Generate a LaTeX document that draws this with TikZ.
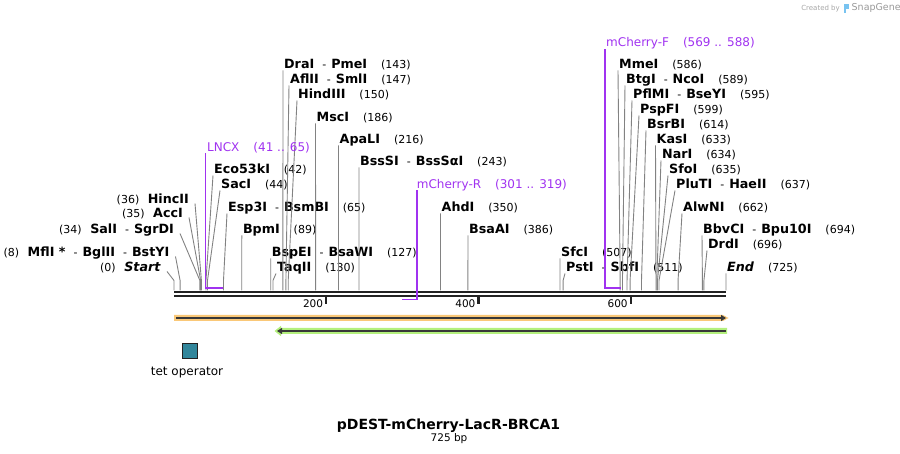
\documentclass[tikz,border=0pt]{standalone}
\usepackage{fontspec}
\setmainfont{DejaVu Sans}
\usetikzlibrary{arrows.meta}
\definecolor{primer}{RGB}{160,50,240}
\definecolor{leadgray}{RGB}{130,130,130}
\definecolor{bardark}{RGB}{34,34,34}
\definecolor{fwdhalo}{RGB}{250,200,120}
\definecolor{revhalo}{RGB}{180,240,125}
\definecolor{tetfill}{RGB}{49,134,155}
\definecolor{snapblue}{RGB}{120,195,240}
\newcommand{\sitesep}{\hspace{8pt}{\mdseries\fontsize{11}{13}\selectfont-}\hspace{5pt}}
\newcommand{\sitepos}[1]{\hspace{14pt}{\mdseries\fontsize{11}{13}\selectfont(#1)}}
\newcommand{\leftpos}[1]{{\mdseries\fontsize{11}{13}\selectfont(#1)}\hspace{8.5pt}}
\begin{document}
\begin{tikzpicture}[x=1pt,y=-1pt]
\tikzstyle{site} = [font=\fontsize{12.7}{15}\selectfont\bfseries,anchor=base west,inner sep=0];
\tikzstyle{lsite} = [site,anchor=base east];
\tikzstyle{feat} = [font=\fontsize{12}{14}\selectfont,text=primer,anchor=base west,inner sep=0];
\tikzstyle{leader} = [draw=leadgray,line width=0.9];
\tikzstyle{bracket} = [draw=primer,line width=1.8];
\tikzstyle{bar} = [draw=bardark,line width=2.4];
\tikzstyle{plain} = [inner sep=0];
\useasboundingbox (0,0) rectangle (900,454);

% cut sites on the sequence
\foreach \p in {0,8,34,35,36,42,44,65,89,127,130,143,147,150,186,216,243,350,386,507,511,586,589,595,599,614,633,634,635,637,662,694,696,725}
  \coordinate (s\p) at ({174+\p*0.7614},290.5);

% enzymes, right of their lines
\node [site] (dra) at (284,68.5) {DraI\sitesep PmeI\sitepos{143}};
\node [site] (afl) at (290,83.5) {AflII\sitesep SmlI\sitepos{147}};
\node [site] (hind) at (298,98.5) {HindIII\sitepos{150}};
\node [site] (msc) at (316.5,121.5) {MscI\sitepos{186}};
\node [site] (apa) at (339.5,143.5) {ApaLI\sitepos{216}};
\node [site] (bss) at (360,165.5) {BssSI\sitesep BssSαI\sitepos{243}};
\node [site] (eco) at (214,173.5) {Eco53kI\sitepos{42}};
\node [site] (sac) at (221,188.5) {SacI\sitepos{44}};
\node [site] (esp) at (228,211.5) {Esp3I\sitesep BsmBI\sitepos{65}};
\node [site] (bpm) at (242.8,233.5) {BpmI\sitepos{89}};
\node [site] (bsp) at (271.7,256.5) {BspEI\sitesep BsaWI\sitepos{127}};
\node [site] (taq) at (277,271.5) {TaqII\sitepos{130}};
\node [site] (ahd) at (441.5,211.5) {AhdI\sitepos{350}};
\node [site] (bsaa) at (469,233.5) {BsaAI\sitepos{386}};
\node [site] (sfc) at (561,256.5) {SfcI\sitepos{507}};
\node [site] (pst) at (566,271.5) {PstI\sitesep SbfI\sitepos{511}};
\node [site] (mme) at (619,68.5) {MmeI\sitepos{586}};
\node [site] (btg) at (626,83.5) {BtgI\sitesep NcoI\sitepos{589}};
\node [site] (pfl) at (633,98.5) {PflMI\sitesep BseYI\sitepos{595}};
\node [site] (psp) at (640,113.5) {PspFI\sitepos{599}};
\node [site] (bsr) at (647,128.5) {BsrBI\sitepos{614}};
\node [site] (kas) at (656.5,143.5) {KasI\sitepos{633}};
\node [site] (nar) at (662,158.5) {NarI\sitepos{634}};
\node [site] (sfo) at (669,173.5) {SfoI\sitepos{635}};
\node [site] (plu) at (676,188.5) {PluTI\sitesep HaeII\sitepos{637}};
\node [site] (alw) at (683,211.5) {AlwNI\sitepos{662}};
\node [site] (bbv) at (703,233.5) {BbvCI\sitesep Bpu10I\sitepos{694}};
\node [site] (drd) at (708,248.5) {DrdI\sitepos{696}};
\node [site] (endl) at (727,271.5) {\textit{End}\sitepos{725}};

% enzymes, left of their lines
\node [lsite] (start) at (161,271.5) {\leftpos{0}\textit{Start}};
\node [lsite] (mfl) at (169.5,256.5) {\leftpos{8}MflI *\sitesep BglII\sitesep BstYI};
\node [lsite] (sal) at (174,233.5) {\leftpos{34}SalI\sitesep SgrDI};
\node [lsite] (acc) at (183,217.5) {\leftpos{35}AccI};
\node [lsite] (hinc) at (189,203.5) {\leftpos{36}HincII};

\foreach \s/\n in {143/dra,147/afl,150/hind,186/msc,216/apa,243/bss,42/eco,44/sac,65/esp,89/bpm,127/bsp,130/taq,350/ahd,386/bsaa,507/sfc,511/pst,586/mme,589/btg,595/pfl,599/psp,614/bsr,633/kas,634/nar,635/sfo,637/plu,662/alw,694/bbv,696/drd,725/endl}
  \draw [leader] (s\s) -- ++(0,-10) -- ([xshift=-1pt,yshift=-2pt]\n.base west);
\foreach \s/\n in {0/start,8/mfl,34/sal,35/acc,36/hinc}
  \draw [leader] (s\s) -- ++(0,-10) -- ([xshift=6pt]\n.base east);

% sequence
\draw [bar] (174,292) -- (726,292);
\draw [bar] (174,296) -- (726,296);
\foreach \t in {200,400,600} {
  \draw [bar,line width=2.3] ({174+\t*0.7614},297) -- ++(0,7);
  \node [plain,anchor=base east,font=\fontsize{10.5}{12}\selectfont] (t\t) at ({174+\t*0.7614-3},308) {\t};
}

% primers
\node [feat] (lncx) at (207,151.5) {LNCX\hspace{14pt}(41 .. 65)};
\node [feat] (mchr) at (416.7,188.5) {mCherry-R\hspace{14pt}(301 .. 319)};
\node [feat] (mchf) at (606,46.5) {mCherry-F\hspace{14pt}(569 .. 588)};
\coordinate (lncxend) at (223,288);
\coordinate (mchrend) at (402,299.5);
\coordinate (mchfend) at (620.5,288);
\draw [bracket] ([xshift=-1.5pt,yshift=-2pt]lncx.base west) |- (lncxend);
\draw [bracket] ([yshift=-2pt]mchr.base west) |- (mchrend);
\draw [bracket] ([xshift=-0.7pt,yshift=-3pt]mchf.base west) |- (mchfend);

% features
\fill [fwdhalo] (174,315) -- (723,315) -- (728.5,318) -- (723,321) -- (174,321) -- cycle;
\draw [draw=bardark!90,line width=2.4,-{Triangle[length=5pt,width=6pt]}] (176,318) -- (726,318);
\fill [revhalo] (274.5,331) -- (281,325.8) -- (281,328) -- (727,328) -- (727,334) -- (281,334) -- (281,336.2) -- cycle;
\draw [draw=bardark!90,line width=2.4,-{Triangle[length=5pt,width=6pt]}] (725.5,331) -- (277,331);

% legend
\node [draw=bardark,fill=tetfill,minimum width=15,minimum height=15.5,inner sep=0,line width=0.8] (tet) at (190,351) {};
\node [plain,anchor=base,font=\fontsize{12}{14}\selectfont] (tetlab) at (187,375.5) {tet operator};

% title
\node [plain,anchor=base,font=\fontsize{14}{16}\selectfont\bfseries] (title) at (448.5,429) {pDEST-mCherry-LacR-BRCA1};
\node [plain,anchor=base,font=\fontsize{10.5}{12}\selectfont] (size) at (449,441.5) {725 bp};

% watermark
\node [plain,anchor=base east,text=black!35,font=\fontsize{7}{8}\selectfont] (wm1) at (840,10.5) {Created by};
\fill [snapblue] (843.5,4) rectangle (846,13);
\fill [snapblue] (846,4) rectangle (849,9);
\node [plain,anchor=base west,text=black!40,font=\fontsize{9.5}{11}\selectfont] (wm2) at (851.5,11) {SnapGene};
\end{tikzpicture}
\end{document}
